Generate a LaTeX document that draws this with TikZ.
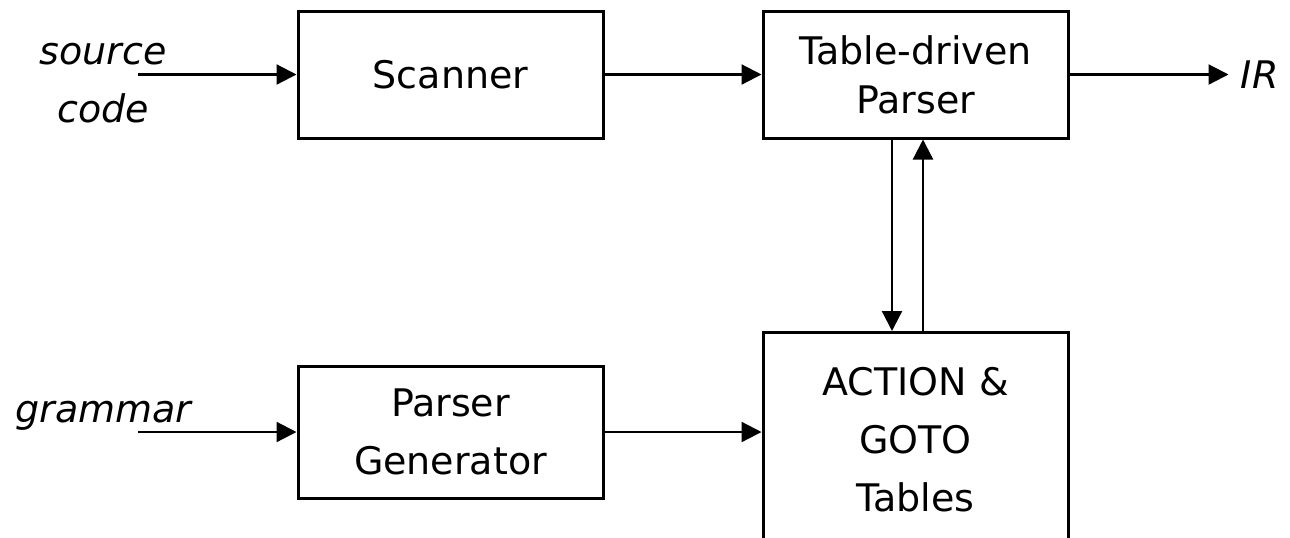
\documentclass[tikz,border=0pt]{standalone}
\usepackage{fontspec}
\setmainfont{DejaVu Sans}
\usetikzlibrary{arrows.meta, positioning}

\begin{document}
\begin{tikzpicture}[x=0.5pt, y=-0.5pt,
  blk/.style={draw, line width=1.5pt, inner sep=0pt, align=center, minimum width=152.5pt,
    font=\fontsize{19}{29}\selectfont},
  lbl/.style={inner sep=0pt, align=center, font=\fontsize{19}{29}\selectfont\itshape},
  flow/.style={line width=1.1pt, -{Triangle[length=10pt, width=10pt]}}]
\useasboundingbox (0,0) rectangle (1290,537);

% front end
\node[blk, minimum height=63.5pt] (scan) at (450.5,74.5) {Scanner};
\node[blk, minimum height=63.5pt, font=\fontsize{19}{24.5}\selectfont] (parse) at (915.5,74.5) {Table-driven\\Parser};
\node[lbl, inner xsep=6pt, right=79.5pt of parse] (ir) {IR};

% generated tables
\node[blk, minimum height=66pt] (pgen) at (450.5,432) {Parser\\Generator};
\node[blk, minimum height=107pt, anchor=north] (tables) at (915.5,331) {ACTION \&\\GOTO\\Tables};

% inputs
\coordinate (src) at (138,74.5);
\coordinate (gin) at (138,432);
\node[lbl] (srclbl) at (103,83) {source\\code};
\node[lbl] (glbl) at (103.5,416) {grammar};

\draw[flow] (src) -- (scan);
\draw[flow] (scan) -- (parse);
\draw[flow] (parse) -- (ir);
\draw[flow] (gin) -- (pgen);
\draw[flow] (pgen) -- (pgen -| tables.west);
\draw[flow] ([xshift=-11.75pt]parse.south) -- ([xshift=-11.75pt]tables.north);
\draw[flow] ([xshift=3.75pt]tables.north) -- ([xshift=3.75pt]parse.south);
\end{tikzpicture}
\end{document}
